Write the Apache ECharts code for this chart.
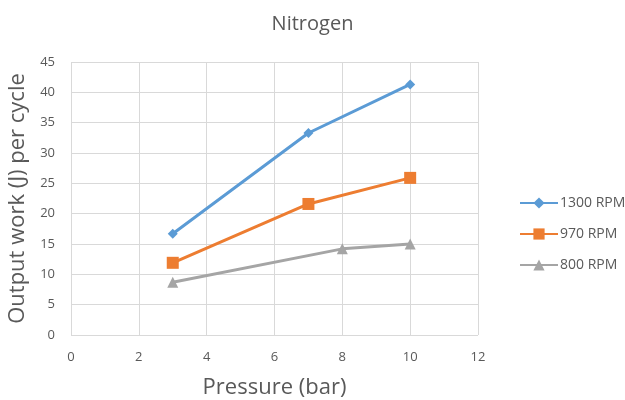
<!DOCTYPE html>
<html>
<head>
<meta charset="utf-8">
<script src="https://cdn.jsdelivr.net/npm/echarts@6/dist/echarts.min.js"></script>
<style>html,body{margin:0;padding:0;background:#fff}#c{width:625px;height:400px}</style>
</head>
<body>
<div id="c"></div>
<script>
// Output work per cycle vs. pressure for three engine speeds
const seriesNames = ['1300 RPM', '970 RPM', '800 RPM'];
const pressure1300 = [3, 7, 10];
const work1300 = [16.7, 33.3, 41.3];
const pressure970 = [3, 7, 10];
const work970 = [11.9, 21.6, 25.9];
const pressure800 = [3, 8, 10];
const work800 = [8.7, 14.2, 15.0];

const colors = ['#5b9bd5', '#ed7d31', '#a5a5a5'];
const symbols = ['diamond', 'rect', 'triangle'];
const symbolSizes = [10, 12, 11];
const pairs = [[pressure1300, work1300], [pressure970, work970], [pressure800, work800]];

const font = '"Open Sans", "Liberation Sans", sans-serif';
const chart = echarts.init(document.getElementById('c'), null, {renderer: 'canvas'});
chart.setOption({
  animation: false,
  title: {
    text: 'Nitrogen', left: 'center', top: 9,
    textStyle: {fontFamily: font, fontSize: 20, fontWeight: 'normal', color: '#595959'}
  },
  grid: {left: 71, right: 147, top: 62, bottom: 65, outerBoundsMode: 'none', containLabel: false},
  legend: {
    orient: 'vertical', left: 514, top: 191, itemGap: 17, itemWidth: 38, itemHeight: 14,
    textStyle: {fontFamily: font, fontSize: 14, color: '#595959', padding: [0, 0, 0, -3]},
    data: seriesNames
  },
  xAxis: {
    type: 'value', min: 0, max: 12, interval: 2,
    name: 'Pressure (bar)', nameLocation: 'middle', nameGap: 42,
    nameTextStyle: {fontFamily: font, fontSize: 22, color: '#595959'},
    axisLine: {show: false}, axisTick: {show: false},
    axisLabel: {fontFamily: font, fontSize: 13, color: '#595959', margin: 16},
    splitLine: {lineStyle: {color: '#d9d9d9', width: 1}}
  },
  yAxis: {
    type: 'value', min: 0, max: 45, interval: 5,
    name: 'Output work (J) per cycle', nameLocation: 'middle', nameGap: 42,
    nameTextStyle: {fontFamily: font, fontSize: 22, color: '#595959'},
    axisLine: {show: false}, axisTick: {show: false},
    axisLabel: {fontFamily: font, fontSize: 13, color: '#595959', margin: 16},
    splitLine: {lineStyle: {color: '#d9d9d9', width: 1}}
  },
  series: seriesNames.map((name, i) => ({
    name: name, type: 'line',
    data: pairs[i][0].map((x, k) => [x, pairs[i][1][k]]),
    symbol: symbols[i], symbolSize: symbolSizes[i], showAllSymbol: true,
    lineStyle: {color: colors[i], width: 3},
    itemStyle: {color: colors[i], borderWidth: 0}
  }))
});
</script>
</body>
</html>
